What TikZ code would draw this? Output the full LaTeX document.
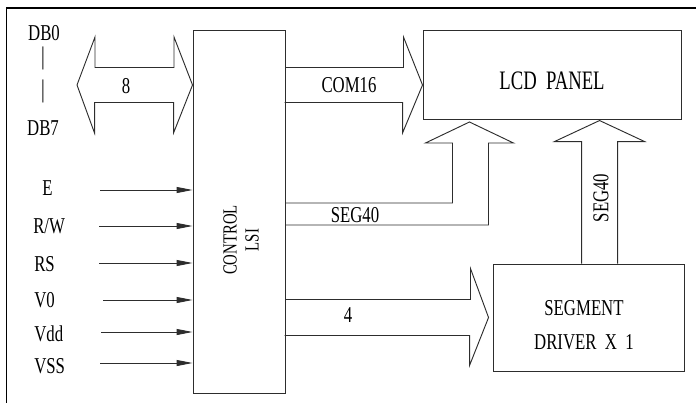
\documentclass[tikz,border=0pt]{standalone}
\usepackage{fontspec}
\setmainfont{Liberation Serif}[FakeStretch=0.74]
\newfontfamily\narrowserif{Liberation Serif}[FakeStretch=0.7]
\usetikzlibrary{arrows.meta,positioning,calc}
\definecolor{inkgray}{RGB}{45,45,45}
\tikzset{
  box/.style={
    draw=inkgray,
    line width=0.7pt,
    inner sep=0pt
  },
  bus/.style={draw=inkgray, line width=0.7pt, line join=miter},
  sig/.style={-{Triangle[length=12pt,width=4.5pt]}, draw=inkgray, line width=0.7pt},
  lbl/.style={inner sep=0pt, font=\fontsize{17}{20}\selectfont},
  frame/.style={draw=black, line width=1.2pt}
}

\begin{document}
\begin{tikzpicture}[x=0.75pt, y=-0.75pt]
        \useasboundingbox (0,0) rectangle (696,403);
        \draw[frame] (6.5,404) -- (6.5,8) -- (697,8);
        % blocks
        \node[box, minimum width=69pt, minimum height=272.25pt] (ctrl) at (239,211.5) {};
        \node[box, minimum width=193.5pt, minimum height=66.75pt] (lcd) at (552,74.5) {};
        \node[box, minimum width=143.25pt, minimum height=80.25pt] (seg) at (588.5,317.5) {};
        \node[inner sep=0pt, rotate=90, align=center, font=\fontsize{15}{16.5}\selectfont] (ctrltxt) at (241,240) {CONTROL\\LSI};
        \node[inner sep=0pt, font=\narrowserif\fontsize{20}{24}\selectfont] (lcdtxt) at ($(lcd)+(0,6)$) {LCD~~PANEL};
        \node[lbl, align=center, font=\fontsize{17}{26}\selectfont] (segtxt) at (584,325) {SEGMENT\\DRIVER~~X~~1};
        % data bus
        \node[lbl] (db0) at (44,33) {DB0};
        \node[lbl, font=\fontsize{19}{20}\selectfont] (bar1) at (43,58) {|};
        \node[lbl, font=\fontsize{19}{20}\selectfont] (bar2) at (43,91) {|};
        \node[lbl] (db7) at (43,128) {DB7};
        \coordinate (dbmid) at (77,85);
        \draw[bus] (dbmid) -- ++(18,-48) -- ++(0,30.5) -- ++(79,0) -- ++(0,-30.5) -- (ctrl.west |- dbmid)
          -- ++(-19,48) -- ++(0,-30.5) -- ++(-79,0) -- ++(0,30.5) -- cycle;
        \node[lbl] (nbits) at (126,86) {8};
        % COM16 to panel
        \draw[bus] ($(ctrl.east |- dbmid)+(0,-17.5)$) -- ++(118,0) -- ++(0,-30.5) -- (lcd.west |- dbmid)
          -- ++(-20,48) -- ++(0,-30.5) -- ++(-118,0);
        \node[lbl] (com) at (349,85) {COM16};
        % SEG40 from control
        \draw[bus] ($(ctrl.east)+(0,-8.5)$) -- ++(167,0) -- ++(0,-60) -- ++(-27,0) -- ++(44,-21)
          -- ++(44,21) -- ++(-25,0) -- ++(0,82) -- ++(-203,0);
        \node[lbl] (segA) at (355,215) {SEG40};
        % SEG40 from driver
        \draw[bus] ($(seg.north west)+(89,0)$) -- ++(0,-122) -- ++(-27,0) -- ++(45,-21)
          -- ++(45,21) -- ++(-27,0) -- ++(0,122);
        \node[lbl, rotate=90] (segB) at (601,198) {SEG40};
        % 4 bit to driver
        \draw[bus] ($(ctrl.east |- seg.west)+(0,-18)$) -- ++(185,0) -- ++(0,-31) -- ($(seg.west)+(-4,0)$)
          -- ++(-19,48) -- ++(0,-30) -- ++(-185,0);
        \node[lbl] (four) at (348,315) {4};
        % control inputs
        \node[lbl, anchor=west] (lE) at (42,188) {E};
        \node[lbl, anchor=west] (lRW) at (33,226) {R/W};
        \node[lbl, anchor=west] (lRS) at (34,264) {RS};
        \node[lbl, anchor=west] (lVO) at (34,300) {V0};
        \node[lbl, anchor=west] (lVdd) at (34,334) {Vdd};
        \node[lbl, anchor=west] (lVSS) at (34,366) {VSS};
        \coordinate (iE) at (100,190);
        \coordinate (iRW) at (99,226);
        \coordinate (iRS) at (99,263);
        \coordinate (iVO) at (103,300);
        \coordinate (iVdd) at (101,332);
        \coordinate (iVSS) at (100,363);
        \draw[sig] (iE) -- (iE -| ctrl.west);
        \draw[sig] (iRW) -- (iRW -| ctrl.west);
        \draw[sig] (iRS) -- (iRS -| ctrl.west);
        \draw[sig] (iVO) -- (iVO -| ctrl.west);
        \draw[sig] (iVdd) -- (iVdd -| ctrl.west);
        \draw[sig] (iVSS) -- (iVSS -| ctrl.west);
      \end{tikzpicture}
\end{document}
